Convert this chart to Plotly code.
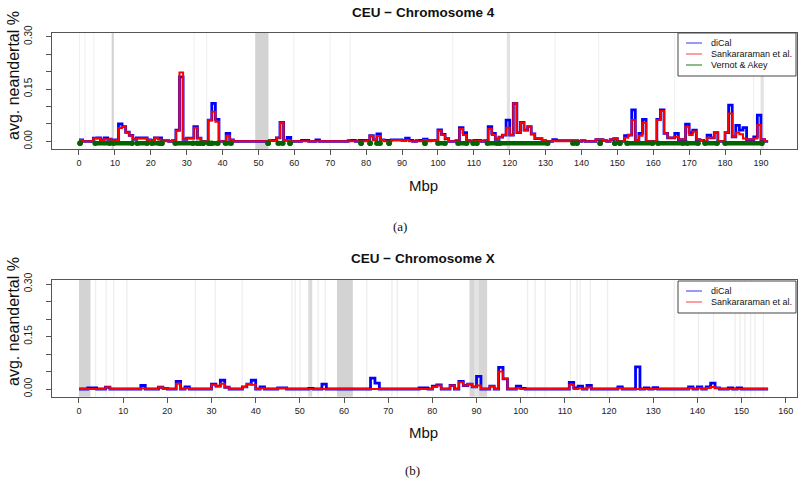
import plotly.graph_objects as go

# ---------------- data ----------------
chr4_bin_start = list(range(0, 192))
chr4_dical = [
    .004, 0, 0, 0, .009, .01, .004, .01, .006, .002,
    .004, .05, .042, .026, .017, .006, .01, .01, .01, .004,
    .003, .01, .01, .002, .002, 0, .002, .032, .185, .006,
    .009, .009, .042, .009, 0, 0, .061, .109, .063, 0,
    0, .023, .004, 0, 0, 0, 0, 0, 0, 0,
    0, 0, 0, .002, .003, .01, .054, .003, .011, 0,
    0, 0, .003, .003, 0, 0, .004, 0, 0, 0,
    0, 0, 0, 0, 0, .002, .003, 0, .003, .003,
    .003, .016, .004, .021, .004, .003, .003, .004, .004, .004,
    .003, .009, .003, 0, .002, .003, .006, .002, .003, .003,
    .033, .02, .008, 0, 0, .002, .039, .025, .002, 0,
    .003, .003, 0, .002, .042, .023, .006, .012, .018, .061,
    .018, .109, .025, .054, .032, .042, .021, .008, .008, .002,
    0, 0, .005, .002, .002, .002, .002, .002, .002, 0,
    .002, 0, 0, 0, .005, .005, .002, 0, .005, .008,
    0, 0, .016, .018, .09, .003, .023, .063, 0, 0,
    0, .063, .09, .023, .01, .01, .023, .005, .005, .049,
    .025, .032, .005, .003, 0, .018, .01, .025, 0, 0,
    .025, .104, .013, .046, .032, .039, .005, .005, .013, .075,
    .005, 0,
]
chr4_sank = [
    .004, 0, 0, 0, .009, .009, .003, .006, .006, .002,
    .003, .038, .042, .026, .017, .006, .008, .008, .008, .004,
    .003, .01, .005, 0, 0, 0, .002, .03, .197, .006,
    .009, .009, .039, .009, 0, 0, .061, .085, .056, 0,
    0, .016, .004, 0, 0, 0, 0, 0, 0, 0,
    0, 0, 0, .002, .002, .01, .054, .003, .003, 0,
    0, 0, 0, 0, 0, 0, 0, 0, 0, 0,
    0, 0, 0, 0, 0, 0, 0, 0, 0, 0,
    .002, .016, .004, .015, .004, 0, 0, .003, .003, .003,
    .002, .003, 0, 0, 0, 0, .004, 0, .003, .003,
    .03, .018, .008, 0, 0, 0, .035, .018, 0, 0,
    .002, .002, 0, 0, .035, .018, .006, .012, .018, .039,
    .018, .109, .025, .054, .032, .042, .021, .008, .008, .002,
    0, 0, .002, 0, 0, 0, 0, 0, 0, 0,
    0, 0, 0, 0, .005, .005, .002, 0, .005, .008,
    0, 0, .01, .018, .061, .003, .016, .053, 0, 0,
    0, .061, .087, .023, .01, .01, .013, .005, .005, .042,
    .018, .028, .005, .003, 0, .01, .01, .025, 0, 0,
    .025, .08, .013, .025, .02, .008, .005, .005, .008, .047,
    .005, 0,
]
# Vernot & Akey segments (Mbp)
chr4_va_start = [0.3, 4.5, 9.6, 16.2, 20.3, 23.1, 26.8, 32.9, 34.6, 36.1, 37.0, 40.8,
                 52.7, 55.5, 58.8, 78.6, 81.1, 83.0, 86.4, 96.4, 100.0, 105.6, 109.8,
                 113.8, 117.3, 137.6, 145.2, 149.3, 150.7, 152.7, 161.3, 169.4, 174.4, 180.0]
chr4_va_end = [0.3, 8.6, 14.8, 19.0, 22.4, 23.1, 31.8, 33.7, 34.6, 36.3, 38.7, 42.4,
               52.7, 56.8, 58.8, 78.6, 81.1, 83.9, 86.4, 96.4, 102.0, 108.0, 110.9,
               116.5, 130.6, 138.8, 145.2, 149.3, 150.7, 159.8, 168.3, 172.5, 177.8, 190.3]
chr4_gap_start = [49.1, 9.1, 119.2, 189.9, 0.0, 1.5, 4.0, 31.9, 35.4, 59.7, 69.8, 75.4,
                  104.0, 132.5, 144.6, 165.8, 187.8]
chr4_gap_end = [52.8, 9.7, 120.1, 190.8, 0.3, 1.8, 4.3, 32.2, 35.7, 60.0, 70.1, 75.7,
                104.3, 132.8, 144.9, 166.1, 188.1]
chr4_gap_shade = ["#d3d3d3", "#d3d3d3", "#e2e2e2", "#e2e2e2"] + ["#efefef"] * 13

chrX_bin_start = list(range(0, 156))
chrX_dical = [
    0, 0, .003, .003, 0, 0, .005, 0, 0, 0,
    0, 0, 0, 0, .01, 0, 0, 0, .005, .002,
    0, 0, .022, 0, .006, 0, 0, 0, 0, 0,
    .014, .008, .025, .005, 0, 0, 0, .006, .014, .025,
    0, .006, 0, 0, 0, .003, .003, 0, 0, 0,
    0, 0, .002, 0, 0, .014, 0, 0, 0, 0,
    0, 0, 0, 0, 0, 0, .031, .017, 0, 0,
    0, 0, 0, 0, 0, 0, 0, .003, .003, 0,
    .008, .012, 0, 0, .01, 0, .022, .01, .014, .006,
    .036, 0, 0, .008, 0, .062, .029, 0, 0, .008,
    .002, 0, 0, 0, 0, 0, 0, 0, 0, 0,
    0, .019, .003, .008, 0, .01, 0, 0, 0, 0,
    0, 0, .006, 0, 0, 0, .063, 0, .003, 0,
    .004, 0, 0, 0, 0, 0, 0, 0, .006, 0,
    .006, 0, .006, .017, .003, 0, 0, .003, 0, .003,
    0, 0, 0, 0, 0, 0,
]
chrX_sank = [
    0, 0, 0, 0, 0, 0, .005, 0, 0, 0,
    0, 0, 0, 0, .002, 0, 0, 0, .005, .002,
    0, 0, .015, 0, .002, 0, 0, 0, 0, 0,
    .012, .008, .015, .005, 0, 0, 0, .006, .014, .012,
    0, .002, 0, 0, 0, .002, .002, 0, 0, 0,
    0, 0, 0, 0, 0, 0, 0, 0, 0, 0,
    0, 0, 0, 0, 0, 0, 0, 0, 0, 0,
    0, 0, 0, 0, 0, 0, 0, 0, 0, 0,
    .006, .01, 0, 0, .01, 0, .019, .01, .014, .006,
    .01, 0, 0, .008, 0, .05, .029, 0, 0, .002,
    0, 0, 0, 0, 0, 0, 0, 0, 0, 0,
    0, .012, 0, .002, 0, .004, 0, 0, 0, 0,
    0, 0, .002, 0, 0, 0, 0, 0, 0, 0,
    0, 0, 0, 0, 0, 0, 0, 0, .002, 0,
    .002, 0, .003, .006, .003, 0, 0, 0, 0, 0,
    0, 0, 0, 0, 0, 0,
]
chrX_gap_start = [0.0, 58.4, 88.4, 90.4, 89.6, 51.9,
                  3.6, 6.0, 7.7, 10.7, 26.2, 30.7, 36.8, 48.1, 48.8, 49.9, 54.0, 55.6,
                  65.0, 70.7, 71.9, 76.6, 101.4, 103.1, 105.4, 111.1, 112.6, 113.3, 115.6,
                  119.5, 134.6, 140.1, 143.5, 148.4, 149.5, 150.6, 151.9, 152.9, 154.8]
chrX_gap_end = [2.6, 62.0, 89.6, 92.4, 90.4, 52.8,
                3.9, 6.3, 8.0, 11.0, 26.5, 31.0, 37.1, 48.4, 49.1, 50.2, 54.3, 55.9,
                65.3, 71.0, 72.2, 76.9, 101.7, 103.4, 105.7, 111.4, 112.9, 113.6, 115.9,
                119.8, 134.9, 140.4, 143.8, 148.7, 149.8, 150.9, 152.2, 153.2, 155.1]
chrX_gap_shade = ["#d3d3d3", "#d3d3d3", "#d6d6d6", "#d6d6d6", "#e4e4e4", "#dcdcdc"] + ["#eeeeee"] * 33

x_ticks_4 = list(range(0, 191, 10))
x_ticks_X = list(range(0, 161, 10))
y_ticks = [0.0, 0.05, 0.10, 0.15, 0.20, 0.25, 0.30]
y_ticktext = ["0.00", "", "", "0.15", "", "", "0.30"]

series_names = ["diCal", "Sankararaman et al.", "Vernot & Akey"]
series_colors = ["#0000ff", "#ff0000", "#006400"]
legend_colors = ["rgba(60,60,255,0.75)", "rgba(255,70,70,0.75)", "rgba(0,110,0,0.65)"]

# ---------------- figure ----------------
W, H = 800, 485
def fx(p):
    return p / W
def fy(p):
    return 1 - p / H

fig = go.Figure()

def step_xy(starts, vals):
    xs = list(starts) + [starts[-1] + 1]
    ys = list(vals) + [vals[-1]]
    return xs, ys

def add_panel(starts, dical, sank, xa, ya, va_s=None, va_e=None):
    xs, ys = step_xy(starts, dical)
    fig.add_trace(go.Scatter(x=xs, y=ys, mode="lines", line=dict(color=series_colors[0], width=2.8, shape="hv"),
                             xaxis=xa, yaxis=ya, showlegend=False, hoverinfo="skip"))
    xs, ys = step_xy(starts, sank)
    fig.add_trace(go.Scatter(x=xs, y=ys, mode="lines", line=dict(color=series_colors[1], width=2.0, shape="hv"),
                             xaxis=xa, yaxis=ya, showlegend=False, hoverinfo="skip"))
    if va_s is not None:
        gx, gy = [], []
        for s, e in zip(va_s, va_e):
            gx += [s, e, None]
            gy += [-0.0057, -0.0057, None]
        fig.add_trace(go.Scatter(x=gx, y=gy, mode="lines+markers",
                                 line=dict(color=series_colors[2], width=4.5),
                                 marker=dict(color=series_colors[2], size=5.5),
                                 xaxis=xa, yaxis=ya, showlegend=False, hoverinfo="skip"))

add_panel(chr4_bin_start, chr4_dical, chr4_sank, "x", "y", chr4_va_start, chr4_va_end)
add_panel(chrX_bin_start, chrX_dical, chrX_sank, "x2", "y2")

shapes = []
for s, e, c in zip(chr4_gap_start, chr4_gap_end, chr4_gap_shade):
    shapes.append(dict(type="rect", xref="x", yref="y domain", x0=s, x1=e, y0=0, y1=1,
                       fillcolor=c, line=dict(width=0), layer="below"))
for s, e, c in zip(chrX_gap_start, chrX_gap_end, chrX_gap_shade):
    shapes.append(dict(type="rect", xref="x2", yref="y2 domain", x0=s, x1=e, y0=0, y1=1,
                       fillcolor=c, line=dict(width=0), layer="below"))

annotations = []
font = "Liberation Sans, Arial, sans-serif"

def legend_box(x0, y0, x1, y1, names, rows):
    shapes.append(dict(type="rect", xref="paper", yref="paper", x0=fx(x0), x1=fx(x1), y0=fy(y0), y1=fy(y1),
                       fillcolor="white", line=dict(color="#444", width=1), layer="above"))
    for i, (n, r) in enumerate(zip(names, rows)):
        shapes.append(dict(type="line", xref="paper", yref="paper", x0=fx(686), x1=fx(702), y0=fy(r), y1=fy(r),
                           line=dict(color=legend_colors[i], width=1.4), layer="above"))
        annotations.append(dict(text=n, xref="paper", yref="paper", x=fx(709), y=fy(r), xanchor="left",
                                yanchor="middle", showarrow=False, font=dict(size=9, color="#111", family=font)))

legend_box(678, 33, 796, 76, series_names, [43, 54, 65])
legend_box(678, 281, 796, 313, series_names[:2], [291, 302])

def text(t, x, y, size, bold=False, angle=0, fam=font):
    annotations.append(dict(text=("<b>%s</b>" % t) if bold else t, xref="paper", yref="paper", x=fx(x), y=fy(y),
                            xanchor="center", yanchor="middle", showarrow=False, textangle=angle,
                            font=dict(size=size, color="#111", family=fam)))

text("CEU \u2212 Chromosome 4", 423, 12, 13.5, bold=True)
text("CEU \u2212 Chromosome X", 423, 258, 13.5, bold=True)
text("avg. neandertal %", 13, 76, 16, angle=-90)
text("avg. neandertal %", 13, 322, 16, angle=-90)
text("Mbp", 423, 185, 15)
text("Mbp", 423, 432, 15)
text("(a)", 400, 226, 13, fam="Liberation Serif, serif")
text("(b)", 412, 470, 13, fam="Liberation Serif, serif")

axis_common = dict(showline=True, mirror=True, linecolor="#555", linewidth=1, ticks="outside", ticklen=5,
                   tickcolor="#555", showgrid=False, zeroline=False, automargin=False,
                   tickfont=dict(size=9, color="#222", family=font))
yfont = dict(size=10, color="#222", family=font)

fig.update_layout(
    template="none",
    width=W, height=H, margin=dict(l=0, r=0, t=0, b=0, autoexpand=False),
    paper_bgcolor="white", plot_bgcolor="white", showlegend=False,
    xaxis=dict(domain=[fx(52), fx(797)], range=[-7.52, 200.05], anchor="y", tickvals=x_ticks_4, **axis_common),
    yaxis=dict(domain=[fy(149), fy(32.5)], range=[-0.022, 0.312], anchor="x", tickvals=y_ticks,
               ticktext=y_ticktext, tickangle=-90, ticklabelstandoff=10, **{**axis_common, "tickfont": yfont}),
    xaxis2=dict(domain=[fx(52), fx(797)], range=[-6.11, 162.55], anchor="y2", tickvals=x_ticks_X, **axis_common),
    yaxis2=dict(domain=[fy(396.7), fy(279.8)], range=[-0.022, 0.312], anchor="x2", tickvals=y_ticks,
                ticktext=y_ticktext, tickangle=-90, ticklabelstandoff=10, **{**axis_common, "tickfont": yfont}),
    shapes=shapes, annotations=annotations,
)

fig.write_html("out.html", config={"displayModeBar": False},
               post_script="document.body.style.margin='0';document.body.style.padding='0';")
